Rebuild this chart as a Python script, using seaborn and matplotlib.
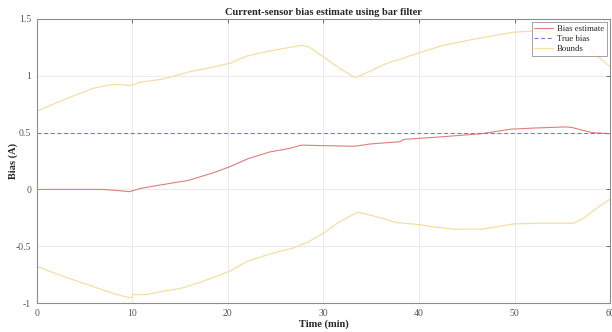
"""Current-sensor bias estimate chart (MATLAB-style look)."""

import matplotlib

matplotlib.use("Agg")
import matplotlib.pyplot as plt
import pandas as pd
import seaborn as sns

# Bias estimate (red)
est_time = [0, 3, 7, 8.5, 9.7, 10.9, 13, 15.9, 18.6, 20.2, 22.1, 24.4, 26.4, 27.7,
            30, 33.3, 34.9, 38, 38.4, 41.9, 46.5, 49.6, 52, 55.4, 56, 58.1, 60]
est_bias = [0.0, 0.0, 0.0, -0.01, -0.02, 0.01, 0.04, 0.08, 0.15, 0.20, 0.27, 0.33, 0.36, 0.39,
            0.385, 0.38, 0.40, 0.42, 0.44, 0.46, 0.49, 0.53, 0.54, 0.55, 0.545, 0.50, 0.49]

# Upper bound (yellow)
up_time = [0, 2.8, 5.9, 7.3, 8.2, 9.8, 10.8, 13.2, 16, 18.1, 20.2, 22, 24.7, 27.7, 28.5,
           30, 31.7, 33.3, 34.9, 36.6, 38.4, 40.1, 42.5, 46, 49.9, 52.3, 55, 57, 58.4, 60]
up_bound = [0.687, 0.788, 0.89, 0.914, 0.925, 0.914, 0.943, 0.971, 1.035, 1.07, 1.11, 1.174,
            1.224, 1.267, 1.253, 1.166, 1.065, 0.983, 1.041, 1.108, 1.157, 1.205, 1.267, 1.326,
            1.383, 1.395, 1.37, 1.31, 1.195, 1.078]

# Lower bound (yellow)
low_time = [0, 2.8, 6.3, 8.4, 9.8, 10.1, 11.5, 13.2, 15.3, 17.4, 20.2, 22, 24.7, 26.8, 28.5,
            30, 31.7, 33.6, 35.5, 37.6, 40.1, 41.2, 43.6, 46.7, 49.9, 53, 56.2, 57.2, 58.6, 60]
low_bound = [-0.677, -0.765, -0.866, -0.925, -0.954, -0.925, -0.925, -0.896, -0.866, -0.808,
             -0.72, -0.633, -0.56, -0.516, -0.458, -0.384, -0.283, -0.2, -0.239, -0.291,
             -0.31, -0.326, -0.349, -0.349, -0.303, -0.297, -0.297, -0.253, -0.165, -0.085]

# True bias (blue dashed)
true_time = [0, 60]
true_bias = [0.5, 0.5]

x_ticks = [0, 10, 20, 30, 40, 50, 60]
y_ticks = [-1, -0.5, 0, 0.5, 1, 1.5]
y_tick_labels = ["-1", "-0.5", "0", "0.5", "1", "1.5"]

sns.set_theme(style="white")
plt.rcParams["font.family"] = ["Liberation Serif", "DejaVu Serif"]

fig = plt.figure(figsize=(6.12, 3.32), dpi=100)
ax = fig.add_axes([0.060, 0.087, 0.937, 0.856])

est_df = pd.DataFrame({"Time": est_time, "Bias": est_bias})
up_df = pd.DataFrame({"Time": up_time, "Bias": up_bound})
low_df = pd.DataFrame({"Time": low_time, "Bias": low_bound})
true_df = pd.DataFrame({"Time": true_time, "Bias": true_bias})

red = "#e07c7c"
blue = "#7272f2"
yellow = "#f4dfa2"

sns.lineplot(data=est_df, x="Time", y="Bias", ax=ax, color=red, lw=0.8,
             label="Bias estimate", sort=False)
sns.lineplot(data=true_df, x="Time", y="Bias", ax=ax, color=blue, lw=0.8,
             linestyle=(0, (3.5, 2.5)), label="True bias", sort=False)
sns.lineplot(data=up_df, x="Time", y="Bias", ax=ax, color=yellow, lw=0.9,
             label="Bounds", sort=False)
sns.lineplot(data=low_df, x="Time", y="Bias", ax=ax, color=yellow, lw=0.9,
             sort=False)

ax.set_xlim(0, 60)
ax.set_ylim(-1, 1.5)
ax.set_xticks(x_ticks)
ax.set_yticks(y_ticks)
ax.set_yticklabels(y_tick_labels)
ax.grid(True, color="#e6e6e6", lw=0.6)
ax.tick_params(axis="both", labelsize=7, colors="#555555", direction="in",
               length=3, width=0.6, top=True, right=True, pad=4)
for side in ax.spines.values():
    side.set_color("#8c8c8c")
    side.set_linewidth(0.8)

ax.set_title("Current-sensor bias estimate using bar filter", fontsize=7.5,
             fontweight="bold", pad=3)
ax.set_xlabel("Time (min)", fontsize=7.5, fontweight="bold", labelpad=1)
ax.set_ylabel("Bias (A)", fontsize=7.5, fontweight="bold")
ax.yaxis.set_label_coords(-0.033, 0.5)

leg = ax.legend(loc="upper right", fontsize=6.3, frameon=True, fancybox=False,
                borderpad=0.3, handlelength=2.2, handletextpad=0.4, labelspacing=0.2,
                borderaxespad=0.4)
leg.get_frame().set_edgecolor("#777777")
leg.get_frame().set_linewidth(0.6)

fig.savefig("out.png", dpi=100)
